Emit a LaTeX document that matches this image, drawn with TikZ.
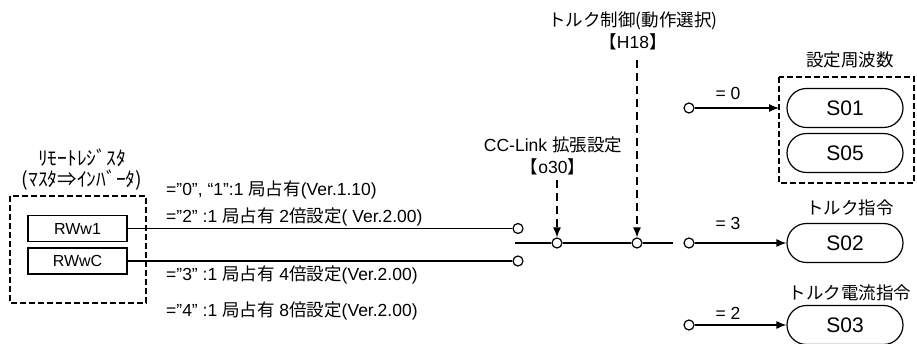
\documentclass[tikz,border=0pt]{standalone}
\usepackage{fontspec}
\setmainfont{Liberation Sans}
\newfontfamily\jp{Noto Sans CJK JP}
\usetikzlibrary{arrows.meta,shapes.misc}

\tikzset{
  regbox/.style={draw, line width=1.2pt, rectangle, minimum width=99pt, minimum height=26pt, inner sep=0pt, font=\fontsize{16}{18}\selectfont},
  selbox/.style={draw, line width=1.2pt, rounded rectangle, minimum width=116pt, minimum height=39pt, inner sep=0pt, font=\fontsize{21}{24}\selectfont},
  term/.style={draw, line width=1.2pt, circle, fill=white, minimum size=10pt, inner sep=0pt},
  lbl/.style={inner sep=0pt, font=\fontsize{17.5}{22}\selectfont},
  wire/.style={line width=1.2pt},
  feed/.style={line width=1.2pt, -{Latex[length=10pt,width=8pt]}},
  param/.style={line width=1.2pt, dash pattern=on 8pt off 5pt, -{Latex[length=10pt,width=8pt]}},
  group/.style={line width=1.2pt, dash pattern=on 6pt off 3pt}
}

\begin{document}
\begin{tikzpicture}[x=1pt,y=-1pt]
  \useasboundingbox (0,0) rectangle (917,344);

  % remote register side
  \draw[group] (10,196) rectangle (146,303);
  \node[lbl, align=center, font=\fontsize{19.5}{21}\selectfont] (reglbl) at (82,170) {\jp ﾘﾓｰﾄﾚｼﾞｽﾀ\\\jp (ﾏｽﾀ⇒ｲﾝﾊﾞｰﾀ)};
  \node[regbox] (rw1) at (77.5,228.5) {RWw1};
  \node[regbox] (rwc) at (77.5,261) {RWwC};

  \node[term] (in1) at (518,228.5) {};
  \node[term] (inc) at (518,261) {};
  \draw[wire] (rw1) -- (in1);
  \draw[wire] (rwc) -- (inc);

  \node[lbl, anchor=west] (m01) at (166,190) {=”0”, “1”:1 {\jp 局占有}(Ver.1.10)};
  \node[lbl, anchor=west] (m2) at (166,217) {=”2” :1 {\jp 局占有} 2{\jp 倍設定}( Ver.2.00)};
  \node[lbl, anchor=west] (m3) at (166,275) {=”3” :1 {\jp 局占有} 4{\jp 倍設定}(Ver.2.00)};
  \node[lbl, anchor=west] (m4) at (166,311) {=”4” :1 {\jp 局占有} 8{\jp 倍設定}(Ver.2.00)};

  % switches
  \coordinate (com) at (515,243);
  \node[term] (sw1) at (557,243) {};
  \node[term] (sw2) at (637,243) {};
  \coordinate (swend) at (673,243);
  \draw[wire] (com) -- (sw1) -- (sw2) -- (swend);

  \node[lbl, align=center] (o30) at (553,156) {CC-Link {\jp 拡張設定}\\{\jp 【}o30{\jp 】}};
  \node[lbl, align=center] (h18) at (633,31) {\jp トルク制御(動作選択)\\{\jp 【}H18{\jp 】}};
  \coordinate (o30top) at (557,180);
  \coordinate (h18top) at (637,60);
  \draw[param] (o30top) -- (sw1);
  \draw[param] (h18top) -- (sw2);

  % outputs
  \node[selbox] (s01) at (845,108) {S01};
  \node[selbox] (s05) at (845,153) {S05};
  \node[selbox] (s02) at (845,243) {S02};
  \node[selbox] (s03) at (845,325) {S03};
  \draw[group] (779,77) rectangle (914,183);
  \coordinate (fin) at (779,108);

  \node[term] (out0) at (689,108) {};
  \node[term] (out3) at (689,243) {};
  \node[term] (out2) at (689,325) {};
  \draw[feed] (out0) -- (fin);
  \draw[feed] (out3) -- (s02);
  \draw[feed] (out2) -- (s03);

  \node[lbl] (eq0) at (728,93) {= 0};
  \node[lbl] (eq3) at (728,223) {= 3};
  \node[lbl] (eq2) at (728,313) {= 2};

  \node[lbl] (fref) at (850,60) {\jp 設定周波数};
  \node[lbl] (tref) at (850,208) {\jp トルク指令};
  \node[lbl] (iref) at (850,293) {\jp トルク電流指令};
\end{tikzpicture}
\end{document}
